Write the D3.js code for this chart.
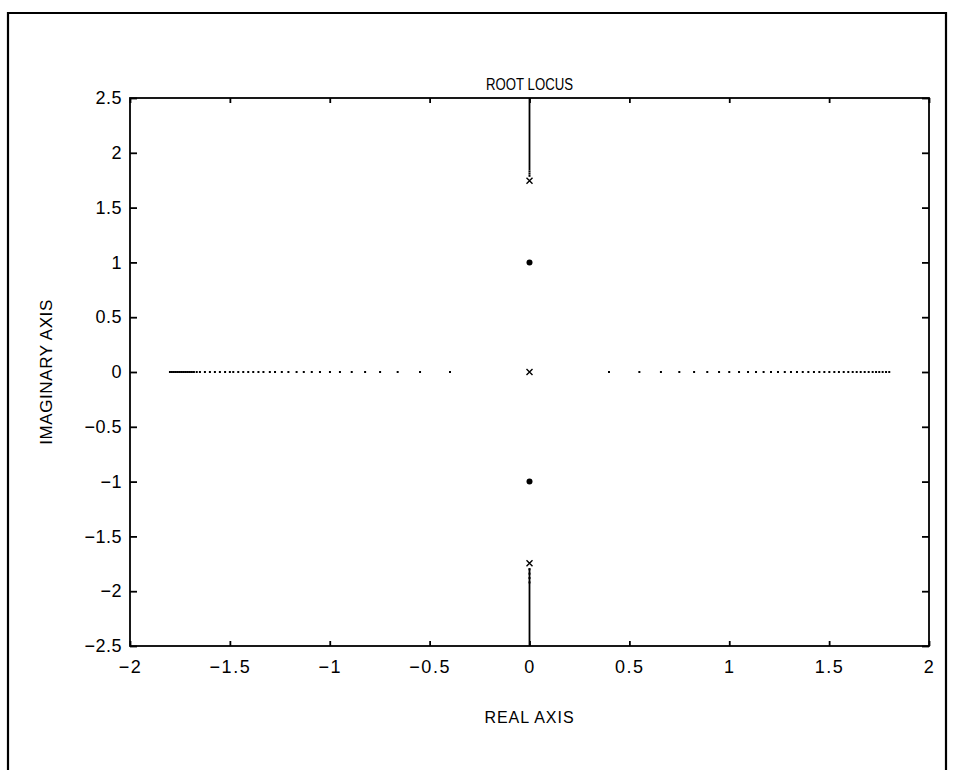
<!DOCTYPE html>
<html>
<head>
<meta charset="utf-8">
<script src="https://cdn.jsdelivr.net/npm/d3@7"></script>
<style>
  html, body { margin: 0; padding: 0; background: #fff; }
  svg { display: block; }
  text { font-family: "Liberation Sans", Arial, Helvetica, sans-serif; fill: #000; }
</style>
</head>
<body>
<svg id="chart" width="954" height="770"></svg>
<script>
// Root locus: open-loop poles at 0 and ±j√3, zeros at ±j
const xTicks = [-2, -1.5, -1, -0.5, 0, 0.5, 1, 1.5, 2];
const yTicks = [-2.5, -2, -1.5, -1, -0.5, 0, 0.5, 1, 1.5, 2, 2.5];

const poles = [[0, 1.745], [0, 0], [0, -1.745]];
const zeros = [[0, 1], [0, -1]];

// real-axis branch, left side (sampled gain steps)
const realLeft = [-1.80, -1.79, -1.78, -1.77, -1.76, -1.75, -1.74, -1.73, -1.72, -1.71,
  -1.70, -1.69, -1.68, -1.666, -1.65, -1.625, -1.60, -1.575, -1.55, -1.524, -1.50,
  -1.483, -1.458, -1.433, -1.408, -1.383, -1.357, -1.332, -1.30, -1.274, -1.24,
  -1.207, -1.166, -1.13, -1.09, -1.049, -0.999, -0.949, -0.89, -0.823, -0.748,
  -0.66, -0.548, -0.398];
// real-axis branch, right side
const realRight = [0.398, 0.55, 0.658, 0.75, 0.824, 0.89, 0.949, 1.0, 1.049, 1.094,
  1.134, 1.172, 1.209, 1.244, 1.278, 1.309, 1.339, 1.368, 1.396, 1.424, 1.451, 1.476,
  1.501, 1.526, 1.549, 1.573, 1.596, 1.618, 1.638, 1.658, 1.678, 1.698, 1.718, 1.735,
  1.751, 1.768, 1.785, 1.801];

// imaginary-axis branches leaving the complex poles
const upperBranch = [1.84, 2.5];
const upperDots = [1.79, 1.81, 1.83];
const lowerBranch = [-1.79, -2.5];
const lowerDots = [-1.80, -1.84, -1.88, -1.92];

const svg = d3.select("#chart");

// page frame
svg.append("path")
  .attr("d", "M8,780 L8,13 L946,13 L946,780")
  .attr("fill", "none").attr("stroke", "#000").attr("stroke-width", 2.2);

const L = 130, R = 929, T = 98, B = 646;
const x = d3.scaleLinear().domain([-2, 2]).range([L, R]);
const y = d3.scaleLinear().domain([-2.5, 2.5]).range([B, T]);

const g = svg.append("g");

// axes box
g.append("rect")
  .attr("x", L).attr("y", T).attr("width", R - L).attr("height", B - T)
  .attr("fill", "none").attr("stroke", "#000").attr("stroke-width", 1.8);

// ticks (inward, on all four sides)
const fmt = d => (d < 0 ? "\u2212" : "") + String(Math.abs(d));

const bottomAxis = d3.axisBottom(x).tickValues(xTicks).tickSize(-5).tickPadding(14).tickFormat(fmt);
const topAxis = d3.axisTop(x).tickValues(xTicks).tickSize(-5).tickFormat("");
const leftAxis = d3.axisLeft(y).tickValues(yTicks).tickSize(-7).tickPadding(8).tickFormat(fmt);
const rightAxis = d3.axisRight(y).tickValues(yTicks).tickSize(-7).tickFormat("");

function style(sel, fs, ls) {
  sel.select(".domain").remove();
  sel.selectAll(".tick line").attr("stroke", "#000").attr("stroke-width", 1.8);
  sel.selectAll(".tick text").attr("font-size", fs).attr("fill", "#000")
    .attr("letter-spacing", ls)
    .attr("font-family", "'Liberation Sans', Arial, sans-serif");
}

g.append("g").attr("transform", `translate(0,${B})`).call(bottomAxis).call(style, 18, 1.5);
g.append("g").attr("transform", `translate(0,${T})`).call(topAxis).call(style, 18, 0);
g.append("g").attr("transform", `translate(${L},0)`).call(leftAxis).call(style, 18, 0.5);
g.append("g").attr("transform", `translate(${R},0)`).call(rightAxis).call(style, 18, 0);

// labels
svg.append("text").attr("x", (L + R) / 2).attr("y", 90)
  .attr("text-anchor", "middle").attr("font-size", 16)
  .attr("textLength", 87).attr("lengthAdjust", "spacingAndGlyphs")
  .text("ROOT LOCUS");
svg.append("text").attr("x", (L + R) / 2).attr("y", 723)
  .attr("text-anchor", "middle").attr("font-size", 16).attr("letter-spacing", 1)
  .text("REAL AXIS");
svg.append("text")
  .attr("transform", `translate(52,${(T + B) / 2}) rotate(-90)`)
  .attr("text-anchor", "middle").attr("font-size", 17).attr("letter-spacing", 0.6)
  .text("IMAGINARY AXIS");

// locus branches on the imaginary axis
const line = d3.line().x(() => x(0)).y(d => y(d));
g.append("path").attr("d", line(upperBranch)).attr("stroke", "#000").attr("stroke-width", 1.8).attr("fill", "none");
g.append("path").attr("d", line(lowerBranch)).attr("stroke", "#000").attr("stroke-width", 1.8).attr("fill", "none");

const dot = (data, cx, cy) => g.append("g").selectAll("rect").data(data).join("rect")
  .attr("x", d => cx(d) - 1).attr("y", d => cy(d) - 1)
  .attr("width", 2).attr("height", 2).attr("fill", "#000");

dot(upperDots, () => x(0), d => y(d));
dot(lowerDots, () => x(0), d => y(d));
dot(realLeft, d => x(d), () => y(0));
dot(realRight, d => x(d), () => y(0));

// zeros
g.append("g").selectAll("circle").data(zeros).join("circle")
  .attr("cx", d => x(d[0])).attr("cy", d => y(d[1])).attr("r", 3).attr("fill", "#000");

// poles
g.append("g").selectAll("path").data(poles).join("path")
  .attr("transform", d => `translate(${x(d[0])},${y(d[1])})`)
  .attr("d", "M-3,-3L3,3M-3,3L3,-3")
  .attr("stroke", "#000").attr("stroke-width", 1.4);
</script>
</body>
</html>
